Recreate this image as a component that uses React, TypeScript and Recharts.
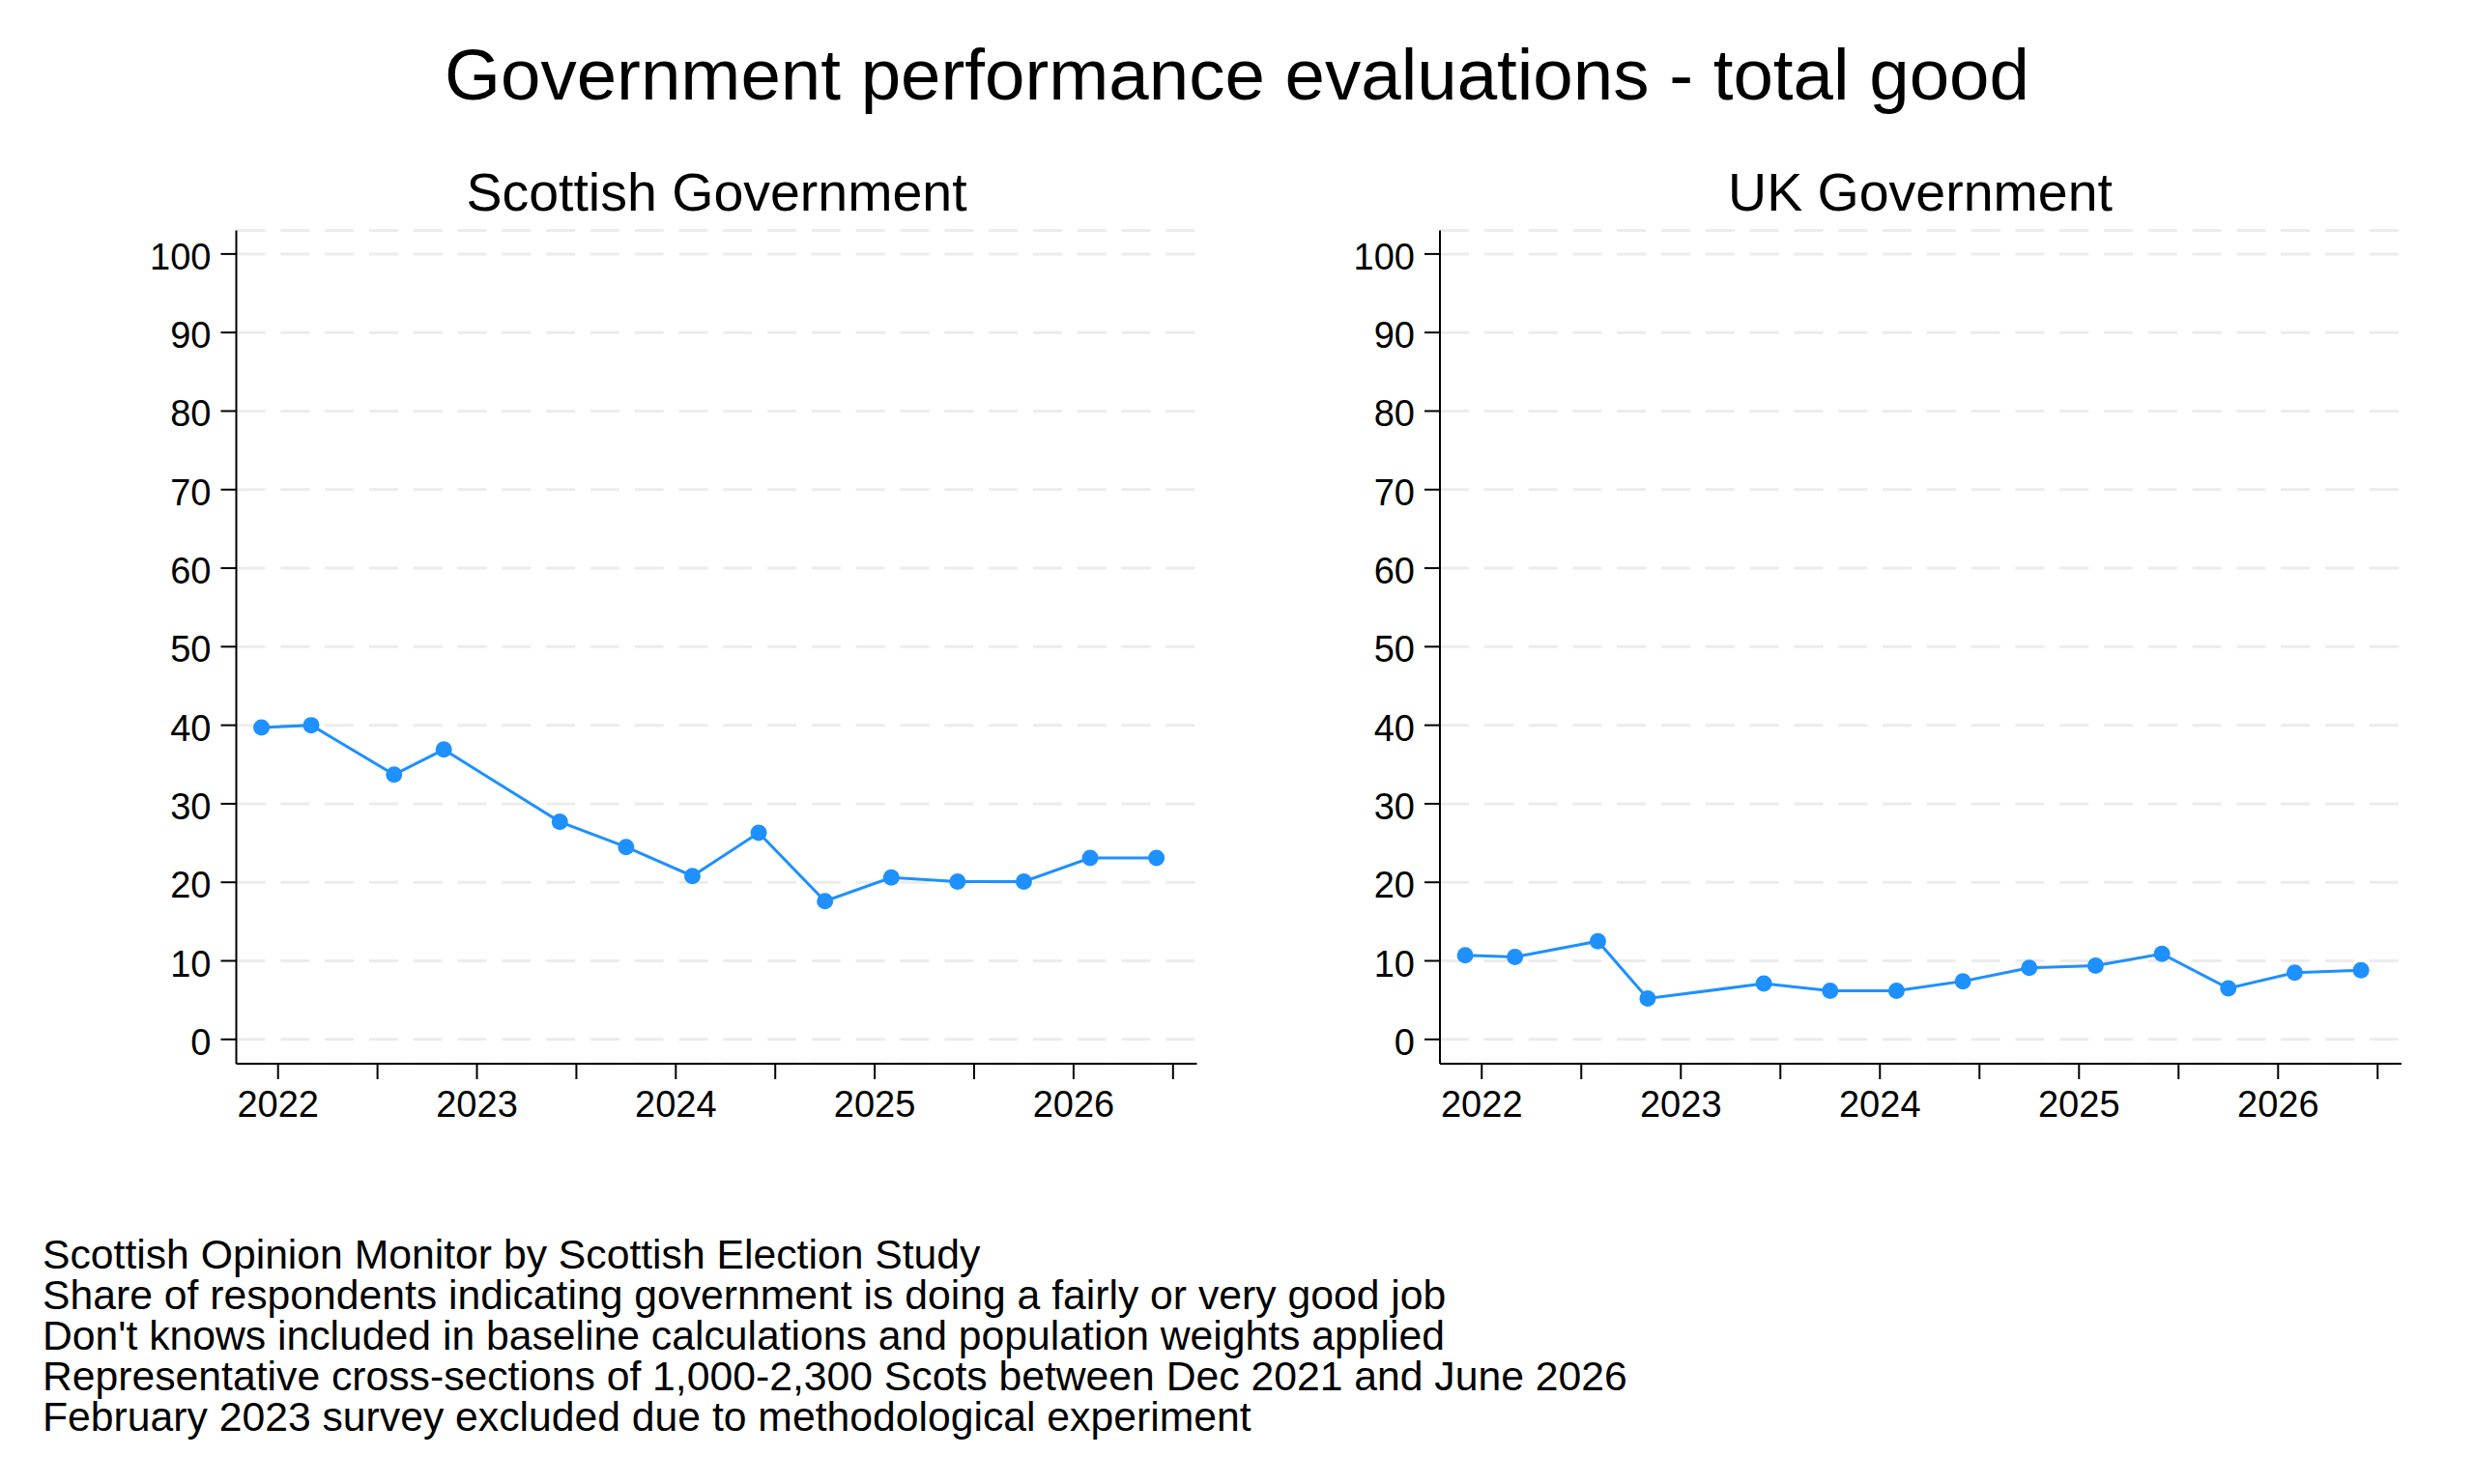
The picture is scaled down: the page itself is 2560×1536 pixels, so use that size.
import React from 'react';
import { LineChart, Line, XAxis, YAxis, CartesianGrid } from 'recharts';

const FONT = '"Liberation Sans", Arial, Helvetica, sans-serif';
const BLUE = '#1E90FF';

// survey fieldwork months (Feb 2023 excluded)
const surveyMonths = [
  '2021-12', '2022-03', '2022-08', '2022-11', '2023-06', '2023-10', '2024-02',
  '2024-06', '2024-10', '2025-02', '2025-06', '2025-10', '2026-02', '2026-06',
];
const scottishGood = [39.7, 40.0, 33.7, 36.9, 27.7, 24.5, 20.8, 26.3, 17.6, 20.6, 20.1, 20.1, 23.1, 23.1];
const ukGood = [10.7, 10.5, 12.5, 5.2, 7.1, 6.2, 6.2, 7.4, 9.1, 9.4, 10.9, 6.5, 8.5, 8.8];

const yTicks = [0, 10, 20, 30, 40, 50, 60, 70, 80, 90, 100];
const xTicks = [2022, 2022.5, 2023, 2023.5, 2024, 2024.5, 2025, 2025.5, 2026, 2026.5];

const notes = [
  'Scottish Opinion Monitor by Scottish Election Study',
  'Share of respondents indicating government is doing a fairly or very good job',
  "Don't knows included in baseline calculations and population weights applied",
  'Representative cross-sections of 1,000-2,300 Scots between Dec 2021 and June 2026',
  'February 2023 survey excluded due to methodological experiment',
];

const toYear = (m: string) => {
  const [y, mo] = m.split('-').map(Number);
  return y + (mo - 1) / 12;
};

const data = surveyMonths.map((m, i) => ({
  t: toYear(m),
  scot: scottishGood[i],
  uk: ukGood[i],
}));

const YTick = (props: any) => {
  const { x, y, payload } = props;
  return (
    <text x={x} y={y} dy={16} textAnchor="end" fontSize={38} fill="#000" fontFamily={FONT}>
      {payload.value}
    </text>
  );
};

const XTick = (props: any) => {
  const { x, y, payload } = props;
  if (!Number.isInteger(payload.value)) return <g />;
  return (
    <text x={x} y={y} dy={27} textAnchor="middle" fontSize={38} fill="#000" fontFamily={FONT}>
      {payload.value}
    </text>
  );
};

const CHART_W = 1300;
const CHART_H = 1250;
const PLOT_TOP = 238.5;
const PLOT_BOTTOM = 1101;

const Panel = ({ left, plotLeft, plotRight, dataKey }: { left: number; plotLeft: number; plotRight: number; dataKey: string }) => (
  <div style={{ position: 'absolute', left, top: 0, width: CHART_W, height: CHART_H }}>
    <LineChart
      width={CHART_W}
      height={CHART_H}
      data={data}
      margin={{ top: PLOT_TOP, right: CHART_W - (plotRight - left), bottom: CHART_H - PLOT_BOTTOM - 100, left: 0 }}
    >
      <CartesianGrid vertical={false} stroke="#ececec" strokeWidth={3} strokeDasharray="30 15.8" />
      <XAxis
        dataKey="t"
        type="number"
        domain={[2021.79, 2026.62]}
        ticks={xTicks}
        interval={0}
        allowDataOverflow
        height={100}
        tickSize={16}
        tickMargin={12}
        axisLine={{ stroke: '#000', strokeWidth: 2 }}
        tickLine={{ stroke: '#000', strokeWidth: 2 }}
        tick={<XTick />}
      />
      <YAxis
        type="number"
        domain={[-3.1, 103]}
        ticks={yTicks}
        interval={0}
        allowDataOverflow
        width={plotLeft - left}
        tickSize={16}
        tickMargin={10}
        axisLine={{ stroke: '#000', strokeWidth: 2 }}
        tickLine={{ stroke: '#000', strokeWidth: 2 }}
        tick={<YTick />}
      />
      <Line
        type="linear"
        dataKey={dataKey}
        stroke={BLUE}
        strokeWidth={3}
        dot={{ r: 8.5, fill: BLUE, stroke: 'none' }}
        activeDot={false}
        isAnimationActive={false}
      />
    </LineChart>
  </div>
);

export default function App() {
  return (
    <div style={{ position: 'absolute', left: 0, top: 0, width: 2560, height: 1536, background: '#fff', overflow: 'hidden' }}>
      <Panel left={0} plotLeft={244.5} plotRight={1238.5} dataKey="scot" />
      <Panel left={1250} plotLeft={1490} plotRight={2485} dataKey="uk" />
      <svg width={2560} height={1536} style={{ position: 'absolute', left: 0, top: 0, pointerEvents: 'none' }}>
        <g fontFamily={FONT} fill="#000">
          <text x={1280} y={103} fontSize={74.5} textAnchor="middle">
            Government performance evaluations - total good
          </text>
          <text x={741.5} y={218} fontSize={55.5} textAnchor="middle">
            Scottish Government
          </text>
          <text x={1987} y={218} fontSize={55.5} textAnchor="middle">
            UK Government
          </text>
          {notes.map((n, i) => (
            <text key={i} x={44} y={1312.7 + 42 * i} fontSize={42.7}>
              {n}
            </text>
          ))}
        </g>
      </svg>
    </div>
  );
}
